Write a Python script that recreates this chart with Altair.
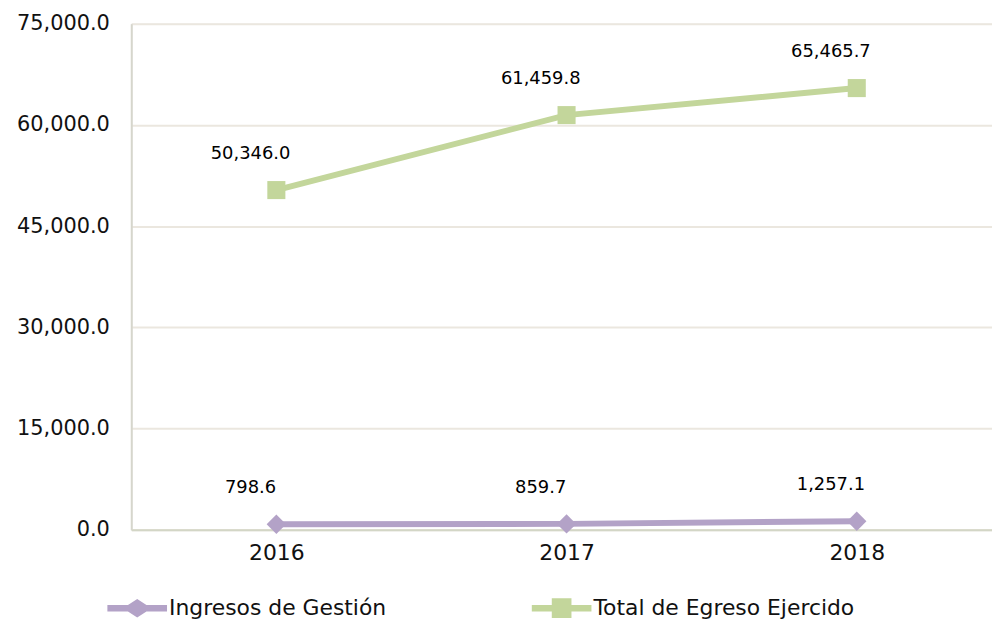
import altair as alt
import pandas as pd

years = [2016, 2017, 2018]
series_names = ["Ingresos de Gestión", "Total de Egreso Ejercido"]
ingresos = [798.6, 859.7, 1257.1]
egresos = [50346.0, 61459.8, 65465.7]
series_colors = ["#b3a2c7", "#c3d69b"]
series_shapes = ["diamond", "square"]
y_ticks = [0, 15000, 30000, 45000, 60000, 75000]

rows = []
for y, v in zip(years, ingresos):
    rows.append({"year": y, "series": series_names[0], "value": v})
for y, v in zip(years, egresos):
    rows.append({"year": y, "series": series_names[1], "value": v})
df = pd.DataFrame(rows)

FONT = "DejaVu Sans"

# legend symbols: a line with a diamond / a square in the middle
diamond_path = ("M-2,-0.22L-0.62,-0.22L0,-0.62L0.62,-0.22L2,-0.22L2,0.22"
                "L0.62,0.22L0,0.62L-0.62,0.22L-2,0.22Z")
square_path = ("M-2,-0.22L-0.66,-0.22L-0.66,-0.66L0.66,-0.66L0.66,-0.22L2,-0.22"
               "L2,0.22L0.66,0.22L0.66,0.66L-0.66,0.66L-0.66,0.22L-2,0.22Z")

x_enc = alt.X(
    "year:Q",
    scale=alt.Scale(domain=[2015.5, 2018.466], nice=False, zero=False),
    axis=alt.Axis(
        values=years, format="d", title=None, grid=False, ticks=False,
        domainColor="#d3d6c6", domainWidth=2, labelFont=FONT, labelFontSize=22,
        labelColor="#111111", labelPadding=13,
    ),
)
y_enc = alt.Y(
    "value:Q",
    scale=alt.Scale(domain=[0, 75000], nice=False),
    axis=alt.Axis(
        values=y_ticks, format=",.1f", title=None, ticks=False,
        domainColor="#d6d6cc", domainWidth=2, gridColor="#ebe7df", gridWidth=2,
        labelFont=FONT, labelFontSize=21, labelColor="#111111", labelPadding=22,
    ),
)

base = alt.Chart(df)

layers = []
for name, col, shp, sz in zip(series_names, series_colors, series_shapes, [380, 330]):
    sub = base.transform_filter(alt.datum.series == name)
    layers.append(sub.mark_line(strokeWidth=6, color=col).encode(x=x_enc, y=y_enc))
    layers.append(
        sub.mark_point(filled=True, opacity=1, shape=shp, size=sz, color=col)
        .encode(x=x_enc, y=y_enc)
    )

labels = base.mark_text(
    font=FONT, fontSize=18, color="#000000", dx=-26, dy=-36
).encode(
    x=x_enc, y=y_enc,
    text=alt.Text("value:Q", format=",.1f"),
)
layers.append(labels)

legend_props = dict(
    title=None, orient="none", direction="horizontal", columns=2,
    legendX=-9, legendY=573, padding=0, symbolSize=900, symbolOpacity=1,
    symbolStrokeWidth=0, labelFont=FONT, labelFontSize=22, labelColor="#111111",
    labelOffset=17, columnPadding=146, labelLimit=400,
)

legend_layer = base.mark_point(filled=True, opacity=0).encode(
    x=x_enc, y=y_enc,
    color=alt.Color(
        "series:N",
        scale=alt.Scale(domain=series_names, range=series_colors),
        legend=alt.Legend(**legend_props),
    ),
    shape=alt.Shape(
        "series:N",
        scale=alt.Scale(domain=series_names, range=[diamond_path, square_path]),
        legend=alt.Legend(**legend_props),
    ),
)
layers.append(legend_layer)

chart = alt.layer(*layers).properties(
    width=866, height=509,
    autosize=alt.AutoSizeParams(type="none"),
    padding={"left": 124, "top": 14, "right": 0, "bottom": 90},
).configure_view(stroke=None).configure(background="white")

chart.save("out.html", embed_options={"renderer": "svg", "actions": False})
